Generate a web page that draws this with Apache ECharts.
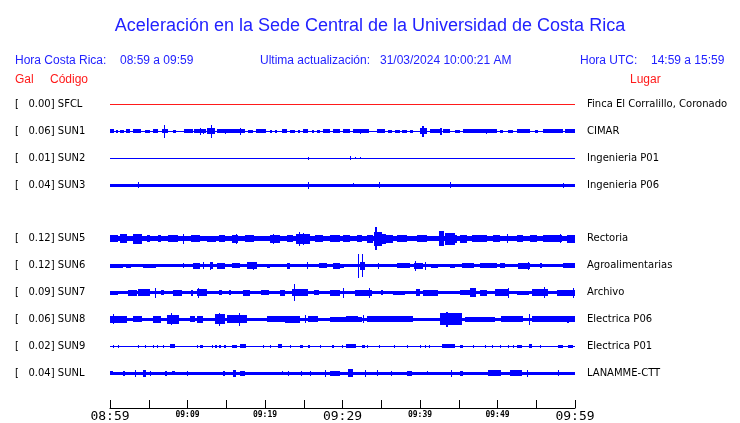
<!DOCTYPE html>
<html><head><meta charset="utf-8">
<script src="https://cdn.jsdelivr.net/npm/echarts@6/dist/echarts.min.js"></script>
<style>html,body{margin:0;padding:0;background:#fff}#c{width:740px;height:423px}</style>
</head><body><div id="c"></div>
<script>
// ---- data ----
const stations = ['SFCL','SUN1','SUN2','SUN3','SUN5','SUN6','SUN7','SUN8','SUN9','SUNL'];
const peakGal  = ['0.00','0.06','0.01','0.04','0.12','0.12','0.09','0.06','0.02','0.04'];
const places   = ['Finca El Corralillo, Coronado','CIMAR','Ingenieria P01','Ingenieria P06','Rectoria','Agroalimentarias','Archivo','Electrica P06','Electrica P01','LANAMME-CTT'];
const rowSlot  = [0,1,2,3,5,6,7,8,9,10];           // slot 4 (SUN4) empty
const timeLabels = ['08:59','09:09','09:19','09:29','09:39','09:49','09:59'];
const bigLabels  = ['08:59','09:29','09:59'];
// background (quiet) half-amplitude of every trace, relative units
const baseAmp = [0.2,0.2,0.2,0.65,0.85,0.55,0.5,0.6,0.2,0.6];
// envelope events per trace: [start minute, end minute, half amplitude]
const evSFCL = [];
const evSUN1 = [[0,0.5,0.75],[0.8,1.0,0.6],[1.3,1.8,0.6],[2.1,2.6,0.75],[3.0,4.0,0.75],[4.5,5.2,0.6],[5.5,6.2,0.75],[6.7,7.5,0.8],[7.0,7.1,2.4],[8.1,8.5,0.5],[9.5,10.6,0.75],[10.8,12.4,0.8],[11.6,11.7,1.3],[12.0,12.1,0.9],[12.5,13.5,1.1],[13.0,13.1,2.4],[13.8,17.4,0.75],[14.8,14.9,0.9],[16.8,16.9,1.3],[17.8,18.5,0.6],[18.8,20.1,0.75],[20.6,20.8,0.5],[21.3,21.5,0.5],[22.2,22.8,0.75],[23.2,23.9,0.6],[24.2,24.4,0.5],[24.9,25.5,0.75],[26.0,26.3,0.6],[26.7,27.1,0.6],[27.5,28.4,0.75],[28.8,29.7,0.75],[30.1,31.0,0.75],[31.4,33.5,0.75],[32.3,32.4,0.9],[34.5,35.5,0.75],[35.9,36.4,0.6],[36.8,37.4,0.6],[37.7,38.3,0.6],[38.7,39.1,0.5],[40.0,40.9,1.1],[40.2,40.4,2.0],[41.3,42.6,0.75],[42.6,42.8,1.3],[43.0,43.9,0.75],[44.5,45.2,0.6],[45.5,49.9,0.75],[48.5,48.6,0.9],[50.3,50.7,0.5],[51.3,51.9,0.5],[52.5,54.2,0.75],[54.8,55.2,0.6],[55.9,58.5,0.75],[58.7,60,0.75]];
const evSUN2 = [[25.5,25.6,0.55],[31.0,31.1,0.7],[31.6,31.7,0.45],[32.2,32.3,0.45]];
const evSUN3 = [[3.6,3.7,1.1],[25.5,25.65,1.35],[31.4,31.5,0.8],[34.7,34.85,1.05],[43.9,44.0,1.05],[58.4,58.5,0.9]];
const evSUN5 = [[0,1.0,1.3],[1.3,2.2,1.65],[3.0,4.1,1.85],[4.8,5.2,1.3],[6.2,6.6,1.3],[7.5,8.8,1.3],[9.4,9.5,1.85],[10.5,11.6,1.3],[12.5,13.6,1.1],[14.0,14.8,1.3],[15.7,16.5,1.5],[16.2,16.3,1.85],[17.4,18.5,1.3],[20.6,21.9,1.5],[21.0,21.1,1.85],[22.8,23.6,1.3],[24.0,25.8,1.85],[24.4,24.5,2.6],[24.9,25.0,2.2],[26.5,27.5,1.3],[28.4,29.7,1.3],[30.1,31.0,1.3],[31.9,32.6,1.3],[33.2,34.0,1.5],[34.0,35.0,2.6],[34.2,34.5,4.2],[35.0,35.6,1.85],[35.5,36.5,1.5],[37.0,38.3,1.3],[39.6,40.9,1.3],[42.5,43.2,2.8],[43.2,44.5,2.2],[43.2,44.8,1.5],[45.2,46.1,1.5],[46.7,48.6,1.3],[49.4,50.3,1.3],[51.2,51.3,1.65],[52.5,53.3,1.3],[54.2,55.1,1.3],[55.9,58.4,1.3],[58.0,58.1,1.65],[59.0,60,1.5]];
const evSUN6 = [[0,1.7,0.7],[2.0,2.6,0.75],[4.3,6.0,0.75],[9.4,9.5,0.9],[10.7,11.6,1.1],[12.0,12.1,1.3],[12.9,13.3,1.3],[12.9,13.0,1.5],[13.8,14.8,1.1],[15.8,16.8,0.9],[17.7,19.0,1.3],[18.5,18.6,1.5],[20.3,20.7,0.75],[22.8,23.2,1.1],[25.4,25.5,1.3],[27.0,28.0,0.9],[28.8,29.7,1.1],[29.0,30.1,0.75],[32.0,32.15,4.4],[32.5,32.65,4.2],[32.3,32.9,1.5],[34.6,34.7,1.1],[37.0,38.7,0.9],[39.2,40.3,1.1],[39.4,39.5,1.85],[40.7,40.8,1.5],[41.4,42.3,0.75],[43.9,44.5,0.75],[45.4,46.9,0.9],[47.7,49.9,0.9],[50.3,51.0,0.85],[52.6,54.2,1.1],[53.9,54.0,1.5],[55.5,55.7,0.9],[58.5,60,0.9]];
const evSUN7 = [[0,1.0,0.75],[2.3,3.5,1.1],[3.6,5.2,1.3],[5.8,5.9,1.85],[6.6,7.0,0.9],[8.1,9.3,1.1],[10.5,10.8,1.1],[11.2,12.5,1.3],[11.4,11.5,1.85],[14.0,14.4,0.9],[15.3,15.5,0.9],[17.2,18.1,1.1],[19.5,20.5,0.9],[21.9,22.6,1.1],[23.5,25.5,1.3],[23.8,23.95,3.2],[26.3,27.0,0.9],[28.4,29.7,1.1],[30.1,30.25,1.85],[31.6,33.8,1.1],[33.4,33.5,1.85],[35.0,35.2,0.9],[36.5,38.0,0.8],[39.5,40.0,1.3],[40.4,42.3,1.1],[45.2,46.5,0.9],[46.4,47.2,1.65],[47.8,48.7,1.1],[49.7,51.4,1.3],[51.3,51.4,1.85],[52.5,54.0,0.75],[54.5,56.5,1.3],[56.0,56.1,2.0],[57.7,60,1.1],[59.7,59.8,1.85]];
const evSUN8 = [[0,2.2,1.3],[0.4,0.5,1.85],[3.0,4.1,1.1],[5.5,6.5,1.3],[7.3,8.8,1.65],[7.9,8.0,2.2],[10.3,11.0,1.1],[11.2,12.0,1.3],[13.5,14.8,1.85],[14.0,14.1,2.4],[15.1,17.7,1.5],[16.7,16.8,2.4],[20.2,23.2,1.1],[22.6,24.5,1.3],[25.2,25.3,1.5],[25.5,26.8,1.1],[28.4,32.5,0.9],[30.4,32.0,1.1],[32.6,32.7,1.5],[33.2,39.1,1.1],[42.6,45.5,2.2],[43.4,43.7,2.75],[45.8,49.7,1.0],[50.5,53.3,1.1],[54.1,54.2,2.0],[54.5,60,1.1],[59.0,59.3,1.3]];
const evSUN9 = [[0.4,0.5,0.55],[1.0,1.1,0.55],[3.6,3.7,0.55],[4.5,4.6,0.55],[5.6,5.7,0.55],[6.0,6.1,0.55],[6.9,7.0,0.55],[7.7,8.4,0.75],[11.2,11.3,0.55],[11.6,12.0,0.55],[13.1,13.2,0.55],[13.5,13.8,0.55],[14.1,14.4,0.55],[14.7,15.0,0.55],[15.7,16.3,0.55],[16.8,17.6,0.75],[19.8,19.9,0.55],[20.6,20.7,0.55],[21.7,22.2,0.75],[23.2,23.3,0.55],[24.5,24.9,0.55],[25.6,25.8,0.55],[27.1,27.2,0.55],[28.6,28.8,0.55],[29.9,30.0,0.55],[30.5,31.8,0.75],[32.5,32.9,0.55],[33.2,33.3,0.55],[34.7,34.8,0.55],[36.6,36.7,0.55],[38.3,38.4,0.55],[40.0,40.1,0.55],[40.6,40.7,0.55],[41.1,41.2,0.55],[42.8,44.5,0.75],[45.2,45.6,0.55],[46.9,47.0,0.55],[48.4,48.5,0.55],[49.3,49.4,0.55],[50.3,50.4,0.55],[51.4,51.5,0.55],[52.0,52.1,0.55],[52.5,53.1,0.55],[54.0,54.4,0.75],[55.5,55.6,0.55],[57.8,58.5,0.55],[59.1,59.8,0.55]];
const evSUNL = [[0,0.4,0.75],[1.7,1.9,0.9],[3.2,3.3,1.3],[4.3,4.7,1.3],[5.2,5.3,0.9],[7.1,7.3,0.9],[8.0,8.4,0.75],[9.9,10.0,0.9],[14.6,14.8,0.9],[15.9,16.3,1.3],[16.8,17.4,0.9],[22.2,22.3,0.75],[23.0,23.1,0.9],[24.7,24.8,0.9],[25.8,25.9,0.9],[27.7,27.8,1.3],[28.8,29.7,0.9],[28.4,28.8,0.9],[30.7,31.4,1.5],[32.9,33.0,1.3],[34.4,34.5,1.1],[36.3,36.4,0.9],[38.3,38.9,0.9],[40.9,41.0,0.75],[44.0,44.1,1.3],[45.2,45.6,0.9],[48.8,50.5,1.1],[51.6,53.1,1.1],[53.8,53.9,1.3],[57.8,57.9,1.1]];
const events = [evSFCL,evSUN1,evSUN2,evSUN3,evSUN5,evSUN6,evSUN7,evSUN8,evSUN9,evSUNL];

// ---- chart ----
const BLUE = '#0000ff', RED = '#ff1a1a', TXT = '#2222ff';
const chart = echarts.init(document.getElementById('c'), null, {renderer:'canvas'});
const slotToIdx = {}; rowSlot.forEach((s,i)=>slotToIdx[s*10]=i);

function makeSeries(i){
  const row = rowSlot[i]*10;
  const color = i===0 ? RED : BLUE;
  const data = [[0,60,baseAmp[i]]].concat(events[i]);
  return {
    type:'custom', coordinateSystem:'cartesian2d', clip:false, silent:true,
    encode:{x:[0,1], y:2},
    data: data,
    renderItem:function(params, api){
      const t0 = api.value(0), t1 = api.value(1), a = api.value(2);
      const c = api.coord([t0,row]);
      const e = api.coord([t1,row+a]);
      const hp = Math.abs(e[1]-c[1]);
      const h = Math.max(1, Math.round(2*hp));
      const y = Math.round(c[1]-h/2);
      const x = Math.round(c[0]);
      const w = Math.max(1, Math.round(e[0]-c[0]));
      return {type:'rect', shape:{x:x,y:y,width:w,height:h}, style:{fill:color}};
    }
  };
}

const txt = (t,x,y,fill,size,align)=>({type:'text', x:x, y:y, style:{text:t, fill:fill, fontSize:size||12, fontFamily:'Liberation Sans, Arial, sans-serif', align:align||'left', verticalAlign:'middle'}});

chart.setOption({
  animation:false,
  backgroundColor:'#fff',
  title:{text:'Aceleración en la Sede Central de la Universidad de Costa Rica', left:'center', top:12,
    textStyle:{color:TXT, fontSize:18, fontWeight:'normal', fontFamily:'Liberation Sans, Arial, sans-serif'}},
  graphic:[
    txt('Hora Costa Rica:',15,61,TXT), txt('08:59 a 09:59',120,61,TXT),
    txt('Ultima actualización:',260,61,TXT), txt('31/03/2024 10:00:21 AM',380,61,TXT),
    txt('Hora UTC:',580,61,TXT), txt('14:59 a 15:59',651,61,TXT),
    txt('Gal',15,80,RED), txt('Código',50,80,RED), txt('Lugar',630,80,RED)
  ],
  grid:{left:110, top:77.5, width:465, height:324},
  xAxis:{type:'value', min:0, max:60, interval:5, position:'bottom', offset:8,
    axisLine:{show:true, onZero:false, lineStyle:{color:'#000', width:1}},
    axisTick:{show:true, inside:true, length:8, lineStyle:{color:'#000'}},
    splitLine:{show:false},
    axisLabel:{margin:2, showMinLabel:true, showMaxLabel:true,
      formatter:function(v){ if(v%10!==0) return ''; const l = timeLabels[v/10]; return bigLabels.indexOf(l)>=0 ? '{b|'+l+'}' : '{s|'+l+'}'; },
      rich:{ b:{fontSize:13, fontFamily:'DejaVu Sans Mono, monospace', color:'#000'},
             s:{fontSize:8, fontWeight:'bold', fontFamily:'DejaVu Sans Mono, monospace', color:'#000', padding:[1,0,0,0]} } }
  },
  yAxis:[
    {type:'value', min:-10, max:110, interval:10, inverse:true, position:'left',
     axisLine:{show:false}, axisTick:{show:false}, splitLine:{show:false},
     axisLabel:{align:'left', margin:95, fontSize:10, fontFamily:'DejaVu Sans, sans-serif', color:'#000',
       formatter:function(v){ const i = slotToIdx[v]; return i===undefined ? '' : '[   '+peakGal[i]+'] '+stations[i]; } } },
    {type:'value', min:-10, max:110, interval:10, inverse:true, position:'right',
     axisLine:{show:false}, axisTick:{show:false}, splitLine:{show:false},
     axisLabel:{align:'left', margin:12, fontSize:10, fontFamily:'DejaVu Sans, sans-serif', color:'#000',
       formatter:function(v){ const i = slotToIdx[v]; return i===undefined ? '' : places[i]; } } }
  ],
  series: stations.map((s,i)=>makeSeries(i))
});
</script></body></html>
